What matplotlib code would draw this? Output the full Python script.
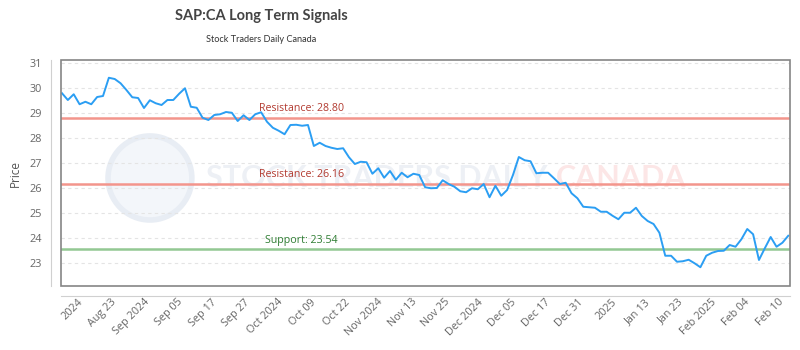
import matplotlib
matplotlib.use("Agg")
import matplotlib.pyplot as plt
import numpy as np
from matplotlib import font_manager
from matplotlib.patches import Rectangle, Ellipse

# closing prices, one per trading day
prices = [29.79, 29.52, 29.75, 29.35, 29.45, 29.35, 29.64, 29.68, 30.41, 30.36,
          30.19, 29.92, 29.63, 29.60, 29.20, 29.51, 29.39, 29.32, 29.52, 29.52,
          29.77, 29.99, 29.25, 29.21, 28.81, 28.72, 28.92, 28.95, 29.04, 29.01,
          28.68, 28.91, 28.72, 28.95, 29.03, 28.65, 28.41, 28.29, 28.15, 28.52,
          28.53, 28.49, 28.52, 27.68, 27.81, 27.68, 27.61, 27.56, 27.59, 27.23,
          26.96, 27.05, 27.03, 26.57, 26.79, 26.41, 26.68, 26.33, 26.61, 26.43,
          26.57, 26.52, 26.03, 25.99, 26.00, 26.31, 26.16, 26.05, 25.87, 25.83,
          25.99, 25.95, 26.16, 25.63, 26.09, 25.69, 25.92, 26.52, 27.24, 27.11,
          27.07, 26.59, 26.61, 26.61, 26.39, 26.16, 26.21, 25.79, 25.59, 25.25,
          25.23, 25.21, 25.05, 25.05, 24.89, 24.75, 25.01, 25.01, 25.21, 24.88,
          24.68, 24.56, 24.21, 23.29, 23.29, 23.05, 23.07, 23.13, 22.99, 22.83,
          23.29, 23.41, 23.48, 23.49, 23.72, 23.65, 23.95, 24.36, 24.15, 23.12,
          23.59, 24.04, 23.65, 23.81, 24.09]

tick_labels = ["2024", "Aug 23", "Sep 2024", "Sep 05", "Sep 17", "Sep 27",
               "Oct 2024", "Oct 09", "Oct 22", "Nov 2024", "Nov 13", "Nov 25",
               "Dec 2024", "Dec 05", "Dec 17", "Dec 31", "2025", "Jan 13",
               "Jan 23", "Feb 2025", "Feb 04", "Feb 10"]

resistance = [28.80, 26.16]
support = [23.54]


def pick_font(names, default):
    for n in names:
        try:
            font_manager.findfont(n, fallback_to_default=False)
            return n
        except ValueError:
            pass
    return default


narrow = pick_font(["Liberation Sans Narrow"], "Lato")
body = pick_font(["Open Sans"], "DejaVu Sans")

fig = plt.figure(figsize=(8, 3.5), dpi=100)
ax = fig.add_axes([0.07625, 0.18286, 0.91125, 0.6457])

# offset axis lines first (this resets the ticks)
for side in ["top", "right"]:
    ax.spines[side].set_visible(False)
ax.spines["left"].set_position(("outward", 7.5))
ax.spines["bottom"].set_position(("outward", 7.5))
ax.spines["left"].set_color("#d0d0d0")
ax.spines["bottom"].set_color("#d0d0d0")

x = np.arange(len(prices))

# watermark
ax.add_patch(Ellipse((0.122, 0.478), 0.115, 0.372, transform=ax.transAxes,
                     facecolor="#f3f6fa", edgecolor="#e8edf4", lw=4, zorder=0))
ax.text(0.668, 0.478, "STOCK TRADERS DAILY", transform=ax.transAxes,
        ha="right", va="center", fontsize=22, fontweight="bold",
        family=narrow, color="#edf0f5", zorder=0)
ax.text(0.679, 0.478, "CANADA", transform=ax.transAxes,
        ha="left", va="center", fontsize=22, fontweight="bold",
        family=narrow, color="#fce6e6", zorder=0)

ax.plot(x, prices, color="#2b9ef3", lw=1.4, zorder=3)

for r in resistance:
    ax.axhline(r, color="#f3958c", lw=1.8, zorder=2)
    ax.annotate("Resistance: %.2f" % r, xy=(0.33, r),
                xycoords=("axes fraction", "data"), xytext=(0, 6.5),
                textcoords="offset points", ha="center", va="center",
                fontsize=7.7, family=body, color="#b23a30", zorder=4)
for s in support:
    ax.axhline(s, color="#93c893", lw=1.8, zorder=2)
    ax.annotate("Support: %.2f" % s, xy=(0.33, s),
                xycoords=("axes fraction", "data"), xytext=(0, 6.5),
                textcoords="offset points", ha="center", va="center",
                fontsize=7.7, family=body, color="#2e7d32", zorder=4)

ax.set_xlim(-0.17, 124.3)
ax.set_ylim(22.08, 31.12)
ax.set_yticks(range(23, 32))
ax.yaxis.grid(True, color="#e4e4e4", lw=0.8, linestyle=(0, (3, 3)))
ax.set_axisbelow(True)

ax.tick_params(axis="both", length=0, colors="#666666", labelsize=7.8)
ax.tick_params(axis="x", pad=3)
ax.tick_params(axis="y", pad=6)
ax.set_xticks(np.linspace(3.3, 122.9, len(tick_labels)))
ax.set_xticklabels(tick_labels, rotation=45, ha="right", va="center",
                   rotation_mode="anchor")
for lab in ax.get_xticklabels() + ax.get_yticklabels():
    lab.set_family(body)

ax.add_patch(Rectangle((0, 0), 1, 1, transform=ax.transAxes, fill=False,
                       edgecolor="#858585", lw=1.2, clip_on=False, zorder=5))

ax.set_ylabel("Price", fontsize=8.5, color="#555555", family=body, labelpad=6)

fig.text(0.327, 0.954, "SAP:CA Long Term Signals", ha="center", va="center",
         fontsize=10.5, fontweight="bold", family=narrow, color="#444444")
fig.text(0.327, 0.886, "Stock Traders Daily Canada", ha="center", va="center",
         fontsize=6.6, family=narrow, color="#333333")

fig.savefig("out.png", dpi=100)
